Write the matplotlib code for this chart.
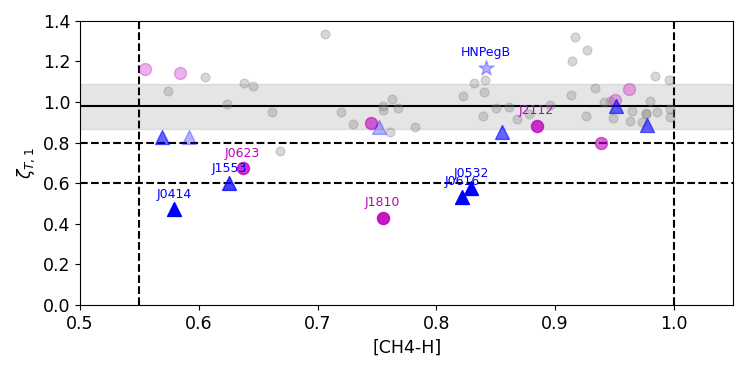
import matplotlib
matplotlib.use("Agg")
import matplotlib.pyplot as plt

# ---- data ----
gray_x = [0.574, 0.605, 0.638, 0.6455, 0.6236, 0.6615, 0.706, 0.6685, 0.7197, 0.730,
          0.763, 0.755, 0.755, 0.7674, 0.7607, 0.7817, 0.8318, 0.841, 0.840, 0.8225,
          0.839, 0.8505, 0.861, 0.868, 0.9163, 0.927, 0.9143, 0.9337, 0.913, 0.896,
          0.8778, 0.9258, 0.941, 0.9458, 0.949, 0.965, 0.963, 0.9795, 0.9767, 0.9767,
          0.9733, 0.986, 0.997, 0.997, 0.984, 0.9955]
gray_y = [1.056, 1.121, 1.095, 1.077, 0.990, 0.951, 1.333, 0.759, 0.951, 0.890,
          1.015, 0.982, 0.961, 0.969, 0.851, 0.877, 1.095, 1.108, 1.048, 1.030,
          0.933, 0.969, 0.975, 0.915, 1.318, 1.255, 1.200, 1.067, 1.033, 0.985,
          0.939, 0.931, 1.001, 1.005, 0.923, 0.957, 0.908, 1.005, 0.939, 0.945,
          0.900, 0.949, 0.964, 0.925, 1.127, 1.108]

# magenta circles (unlabelled), faint and medium
mag_faint_x = [0.5548, 0.584, 0.962, 0.9506]
mag_faint_y = [1.162, 1.144, 1.064, 1.008]
mag_med_x = [0.745, 0.9385]
mag_med_y = [0.898, 0.797]

# blue triangles (unlabelled), faint and medium
blue_faint_x = [0.5916, 0.7517]
blue_faint_y = [0.829, 0.875]
blue_med_x = [0.569, 0.855, 0.951, 0.9775]
blue_med_y = [0.829, 0.854, 0.980, 0.887]

# labelled objects
blue_names = ["J0414", "J1553", "J0616", "J0532"]
blue_x = [0.5795, 0.6258, 0.8216, 0.8292]
blue_y = [0.472, 0.600, 0.534, 0.575]

mag_names = ["J0623", "J1810", "J2112"]
mag_x = [0.6368, 0.7548, 0.8843]
mag_y = [0.673, 0.429, 0.882]

star_name = ["HNPegB"]
star_x = [0.8419]
star_y = [1.169]

mean_zeta = 0.978
std_zeta = 0.113
thresholds_y = [0.8, 0.6]
thresholds_x = [0.55, 1.0]

x_ticks = [0.5, 0.6, 0.7, 0.8, 0.9, 1.0]
y_ticks = [0.0, 0.2, 0.4, 0.6, 0.8, 1.0, 1.2, 1.4]

# ---- plot ----
fig = plt.figure(figsize=(7.47, 3.74), dpi=100)
ax = fig.add_axes([0.1071, 0.1842, 0.8746, 0.7602])

ax.axhspan(mean_zeta - std_zeta, mean_zeta + std_zeta, color="gray", alpha=0.2, zorder=0)
ax.axhline(mean_zeta, color="k", lw=1.5, zorder=1)
for yv in thresholds_y:
    ax.axhline(yv, color="k", ls="--", lw=1.5, zorder=1)
for xv in thresholds_x:
    ax.axvline(xv, color="k", ls="--", lw=1.5, zorder=1)

ax.scatter(gray_x, gray_y, s=40, color="gray", alpha=0.3, zorder=2)
ax.scatter(mag_faint_x, mag_faint_y, s=75, color="m", alpha=0.3, zorder=3)
ax.scatter(mag_med_x, mag_med_y, s=75, color="m", alpha=0.6, zorder=3)
ax.scatter(blue_faint_x, blue_faint_y, s=100, marker="^", color="b", alpha=0.3, zorder=3)
ax.scatter(blue_med_x, blue_med_y, s=100, marker="^", color="b", alpha=0.6, zorder=3)

blue_alpha = [1.0, 0.75, 1.0, 1.0]
for n, xv, yv, a in zip(blue_names, blue_x, blue_y, blue_alpha):
    ax.scatter([xv], [yv], s=100, marker="^", color="b", alpha=a, zorder=4)
    ax.annotate(n, (xv, yv), xytext=(0, 10.8), textcoords="offset points",
                ha="center", va="center", color="b", fontsize=9, zorder=6)

mag_alpha = [0.8, 0.9, 0.8]
for n, xv, yv, a in zip(mag_names, mag_x, mag_y, mag_alpha):
    ax.scatter([xv], [yv], s=75, color="m", alpha=a, zorder=4)
    ax.annotate(n, (xv, yv), xytext=(0, 10.8), textcoords="offset points",
                ha="center", va="center", color="m", fontsize=9, zorder=6)

for n, xv, yv in zip(star_name, star_x, star_y):
    ax.scatter([xv], [yv], s=130, marker="*", color="b", alpha=0.3, zorder=4)
    ax.annotate(n, (xv, yv), xytext=(0, 10.8), textcoords="offset points",
                ha="center", va="center", color="b", fontsize=9, zorder=6)

ax.set_xlim(0.5, 1.05)
ax.set_ylim(0.0, 1.4)
ax.set_xticks(x_ticks)
ax.set_yticks(y_ticks)
ax.tick_params(labelsize=12.5)
ax.set_xlabel("[CH4-H]", fontsize=12.5)
ax.set_ylabel(r"$\zeta_{T,1}$", fontsize=12.5)

fig.savefig("out.png", dpi=100)
